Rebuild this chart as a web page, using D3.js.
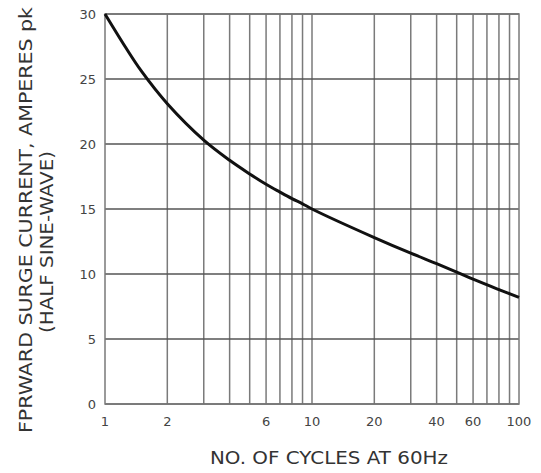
<!DOCTYPE html>
<html lang="en">
<head>
    <meta charset="UTF-8">
    <title>Forward surge current</title>
    <script src="https://d3js.org/d3.v7.min.js" charset="utf-8"></script>
    <style>
        body { margin: 0; background: #fff; }
        text { font-family: "DejaVu Sans", sans-serif; fill: #333; }
    </style>
</head>
<body>
<script>
    // values
    var cycles = [1, 1.25, 1.5, 2, 3, 4, 5, 6, 7, 8, 9, 10, 20, 30, 40, 50, 60, 80, 100];
    var current = [30, 27.5, 25.6, 23.1, 20.3, 18.75, 17.7, 16.9, 16.3, 15.8, 15.4, 15.0, 12.8, 11.6, 10.8, 10.15, 9.6, 8.8, 8.2];
    var xTickLabels = [1, 2, 6, 10, 20, 40, 60, 100];
    var yTickLabels = [0, 5, 10, 15, 20, 25, 30];
    var xGrid = [2, 3, 4, 5, 6, 7, 8, 9, 10, 20, 30, 40, 50, 60, 70, 80, 90];

    var margin = {top: 14, right: 22, bottom: 69, left: 105},
        width = 541 - margin.left - margin.right,
        height = 473 - margin.top - margin.bottom;

    var x = d3.scaleLog().domain([1, 100]).range([0, width]);
    var y = d3.scaleLinear().domain([0, 30]).range([height, 0]);

    var svg = d3.select("body").append("svg")
        .attr("width", 541)
        .attr("height", 473)
        .append("g")
        .attr("transform", "translate(" + margin.left + "," + margin.top + ")");

    // vertical grid
    svg.selectAll(".vgrid").data(xGrid).enter()
        .append("line")
        .attr("x1", function(d) { return x(d); })
        .attr("x2", function(d) { return x(d); })
        .attr("y1", 0)
        .attr("y2", height)
        .attr("stroke", "#7a7a7a")
        .attr("stroke-width", 1.5);

    // horizontal grid
    svg.selectAll(".hgrid").data(yTickLabels).enter()
        .append("line")
        .attr("x1", 0)
        .attr("x2", width)
        .attr("y1", function(d) { return y(d); })
        .attr("y2", function(d) { return y(d); })
        .attr("stroke", "#555")
        .attr("stroke-width", 1.5);

    // frame
    svg.append("rect")
        .attr("width", width)
        .attr("height", height)
        .attr("fill", "none")
        .attr("stroke", "#7a7a7a")
        .attr("stroke-width", 1.5);

    // tick labels
    svg.selectAll(".ylab").data(yTickLabels).enter()
        .append("text")
        .attr("x", -9)
        .attr("y", function(d) { return y(d); })
        .attr("dy", "0.35em")
        .attr("text-anchor", "end")
        .style("font-size", "13px")
        .style("fill", "#444")
        .text(function(d) { return d; });

    svg.selectAll(".xlab").data(xTickLabels).enter()
        .append("text")
        .attr("x", function(d) { return x(d); })
        .attr("y", height + 17)
        .attr("dy", "0.35em")
        .attr("text-anchor", "middle")
        .style("font-size", "13px")
        .style("fill", "#444")
        .text(function(d) { return d; });

    // curve
    var line = d3.line()
        .x(function(d, i) { return x(cycles[i]); })
        .y(function(d) { return y(d); })
        .curve(d3.curveCatmullRom.alpha(0.5));

    svg.append("path")
        .datum(current)
        .attr("d", line)
        .attr("fill", "none")
        .attr("stroke", "#111")
        .attr("stroke-width", 3);

    // axis titles
    svg.append("text")
        .attr("x", 329 - margin.left)
        .attr("y", height + 54)
        .attr("dy", "0.35em")
        .attr("text-anchor", "middle")
        .attr("textLength", 238)
        .attr("lengthAdjust", "spacingAndGlyphs")
        .style("font-size", "17px")
        .text("NO. OF CYCLES AT 60Hz");

    svg.append("text")
        .attr("transform", "translate(" + (26 - margin.left) + "," + (220 - margin.top) + ") rotate(-90)")
        .attr("dy", "0.35em")
        .attr("text-anchor", "middle")
        .attr("textLength", 426)
        .attr("lengthAdjust", "spacingAndGlyphs")
        .style("font-size", "17px")
        .text("FPRWARD SURGE CURRENT, AMPERES pk");

    svg.append("text")
        .attr("transform", "translate(" + (47 - margin.left) + "," + (242 - margin.top) + ") rotate(-90)")
        .attr("dy", "0.35em")
        .attr("text-anchor", "middle")
        .attr("textLength", 182)
        .attr("lengthAdjust", "spacingAndGlyphs")
        .style("font-size", "17px")
        .text("(HALF SINE-WAVE)");
</script>
</body>
</html>
